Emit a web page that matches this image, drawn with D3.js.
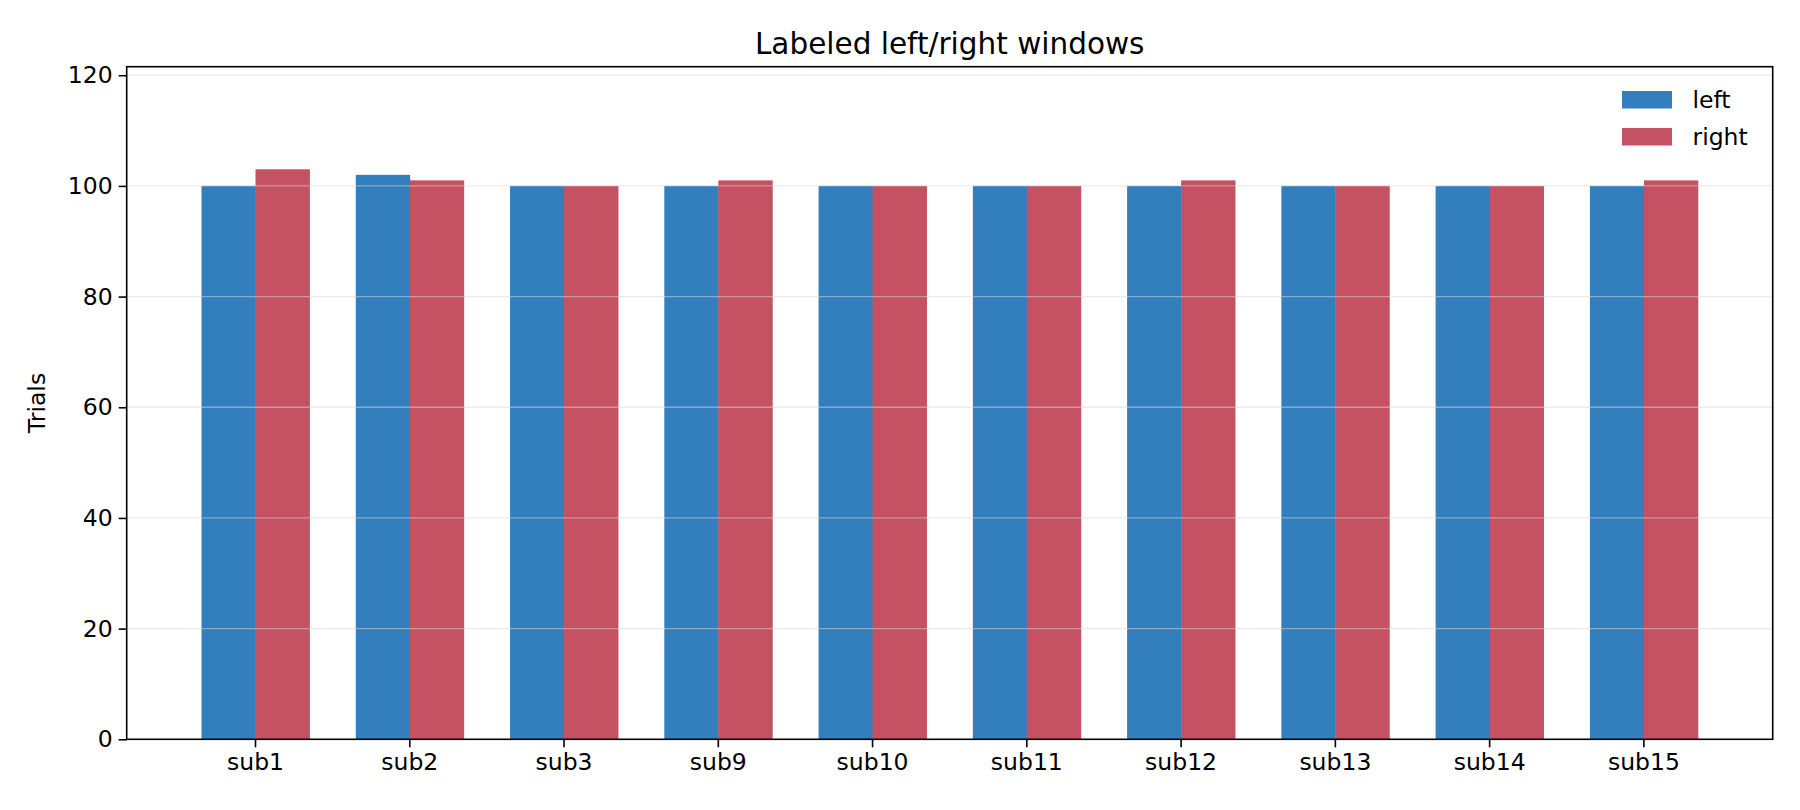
<!DOCTYPE html>
<html>
<head>
<meta charset="utf-8">
<script src="https://cdn.jsdelivr.net/npm/d3@7"></script>
<style>
  body { margin: 0; background: #fff; }
  text { font-family: "DejaVu Sans", sans-serif; fill: #000; }
</style>
</head>
<body>
<script>
// data
var subjects = ["sub1", "sub2", "sub3", "sub9", "sub10", "sub11", "sub12", "sub13", "sub14", "sub15"];
var leftTrials = [100, 102, 100, 100, 100, 100, 100, 100, 100, 100];
var rightTrials = [103, 101, 100, 101, 100, 100, 101, 100, 100, 101];
var seriesNames = ["left", "right"];
var seriesColors = ["#337EBD", "#C45262"];
var yTicks = [0, 20, 40, 60, 80, 100, 120];

var outWidth = 1800, outHeight = 810;
var margin = {top: 66.7, right: 27.3, bottom: 70.7, left: 126.7},
    width = outWidth - margin.left - margin.right,
    height = outHeight - margin.top - margin.bottom;

var svg = d3.select("body").append("svg")
    .attr("width", outWidth)
    .attr("height", outHeight);

var g = svg.append("g")
    .attr("transform", "translate(" + margin.left + "," + margin.top + ")");

// scales
var xScale = d3.scaleBand().domain(subjects).range([0, width])
    .paddingInner(0.3).paddingOuter(0.485);
var xSub = d3.scaleBand().domain(seriesNames).range([0, xScale.bandwidth()]);
var ymax = d3.max(leftTrials.concat(rightTrials)) * 1.18;
var yScale = d3.scaleLinear().domain([0, ymax]).range([height, 0]);
var colorScale = d3.scaleOrdinal(seriesNames, seriesColors);

var rows = subjects.map(function(s, i) {
  return {sub: s, left: leftTrials[i], right: rightTrials[i]};
});

// bars
var groups = g.selectAll(".grp").data(rows).enter().append("g")
    .attr("transform", function(d) { return "translate(" + xScale(d.sub) + ",0)"; });
groups.selectAll("rect")
    .data(function(d) { return seriesNames.map(function(k) { return {key: k, value: d[k]}; }); })
    .enter().append("rect")
    .attr("x", function(d) { return xSub(d.key); })
    .attr("width", xSub.bandwidth() + 0.4)
    .attr("y", function(d) { return yScale(d.value); })
    .attr("height", function(d) { return height - yScale(d.value); })
    .attr("fill", function(d) { return colorScale(d.key); });

// grid on top, faint
g.append("g").selectAll("line")
    .data(yTicks.filter(function(t) { return t > 0; }))
    .enter().append("line")
    .attr("x1", 0).attr("x2", width)
    .attr("y1", function(d) { return yScale(d); })
    .attr("y2", function(d) { return yScale(d); })
    .attr("stroke", "#d8d8d8")
    .attr("stroke-opacity", 0.5)
    .attr("stroke-width", 1.3);

// axes
var xAxis = d3.axisBottom(xScale).tickSize(8).tickPadding(6).tickSizeOuter(0);
var yAxis = d3.axisLeft(yScale).tickValues(yTicks).tickSize(8).tickPadding(6).tickSizeOuter(0);

var gx = g.append("g").attr("transform", "translate(0," + height + ")").call(xAxis);
var gy = g.append("g").call(yAxis);
[gx, gy].forEach(function(a) {
  a.select(".domain").remove();
  a.selectAll(".tick line").attr("stroke", "#000").attr("stroke-width", 1.6);
  a.selectAll(".tick text").style("font-size", "23.5px").style("font-family", "DejaVu Sans");
});

// frame
g.append("rect")
    .attr("width", width).attr("height", height)
    .attr("fill", "none").attr("stroke", "#000").attr("stroke-width", 1.6);

// title + label
svg.append("text")
    .attr("x", margin.left + width / 2)
    .attr("y", 53.5)
    .style("text-anchor", "middle")
    .style("font-size", "29.5px")
    .text("Labeled left/right windows");

svg.append("text")
    .attr("transform", "rotate(-90)")
    .attr("x", -(margin.top + height / 2))
    .attr("y", 45)
    .style("text-anchor", "middle")
    .style("font-size", "23.5px")
    .text("Trials");

// legend
var legend = svg.selectAll(".legend").data(seriesNames).enter().append("g")
    .attr("transform", function(d, i) { return "translate(1622," + (91 + i * 37) + ")"; });
legend.append("rect")
    .attr("width", 50).attr("height", 17.5)
    .attr("fill", colorScale);
legend.append("text")
    .attr("x", 70.5)
    .attr("y", 8.8)
    .attr("dy", "0.35em")
    .style("font-size", "23.5px")
    .text(function(d) { return d; });
</script>
</body>
</html>
